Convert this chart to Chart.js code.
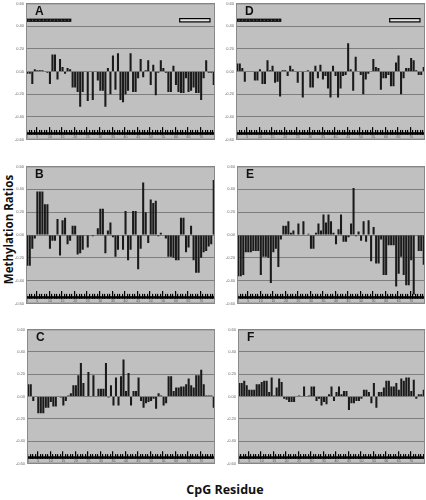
<!DOCTYPE html>
<html>
<head>
<meta charset="utf-8">
<script src="https://cdn.jsdelivr.net/npm/chart.js@4.4.1/dist/chart.umd.min.js"></script>
<style>
  html, body { margin: 0; padding: 0; background: #fff; }
  #wrap { position: relative; width: 426px; height: 500px; overflow: hidden; }
  #wrap canvas { position: absolute; }
  .title { position: absolute; font-family: 'Open Sans', sans-serif; font-weight: 700; color: #111; white-space: nowrap; text-align: center; }
  #ytitle { width: 200px; left: -92px; top: 222px; font-size: 11.5px; transform: rotate(-90deg); }
  #xtitle { width: 200px; left: 125px; top: 481px; font-size: 12.5px; }
</style>
</head>
<body>
<div id="wrap">
  <div id="ytitle" class="title">Methylation Ratios</div>
  <div id="xtitle" class="title">CpG Residue</div>
</div>
<script>
// ── Data ───────────────────────────────────────────────────
const cpgResidues = [
   1,  2,  3,  4,  5,  6,  7,  8,  9, 10, 11, 12, 13, 14, 15,
  16, 17, 18, 19, 20, 21, 22, 23, 24, 25, 26, 27, 28, 29, 30,
  31, 32, 33, 34, 35, 36, 37, 38, 39, 40, 41, 42, 43, 44, 45,
  46, 47, 48, 49, 50, 51, 52, 53, 54, 55, 56, 57, 58, 59, 60,
  61, 62, 63, 64, 65, 66, 67, 68, 69, 70, 71, 72, 73, 74, 75
];
const xTickLabels = [1, 5, 10, 15, 20, 25, 30, 35, 40, 45, 50, 55, 60, 65, 70];
const yTickValues = [0.6, 0.4, 0.2, 0, -0.2, -0.4, -0.6];

const ratiosA = [
  -0.02, -0.02, -0.11, 0.02, 0.01, 0.01, 0.01, 0.00, -0.01, -0.11,
  0.15, 0.15, -0.07, 0.11, 0.04, -0.02, 0.03, 0.02, -0.14, -0.14,
  -0.18, -0.31, -0.18, 0.00, -0.26, 0.00, -0.25, 0.00, -0.08, -0.17,
  -0.17, -0.31, 0.03, -0.20, 0.14, -0.16, 0.16, -0.25, -0.27, -0.20,
  -0.17, 0.16, -0.18, -0.18, -0.06, 0.11, -0.05, 0.01, 0.10, -0.12,
  0.06, -0.21, -0.01, 0.10, 0.03, -0.01, -0.18, -0.18, 0.05, -0.12,
  -0.18, -0.19, -0.19, -0.06, -0.18, -0.17, -0.14, -0.19, -0.19, -0.25,
  -0.06, 0.10, -0.01, -0.01, -0.12
];
const ratiosB = [
  -0.27, -0.27, -0.12, -0.03, 0.38, 0.38, 0.38, 0.27, 0.27, -0.12,
  -0.05, -0.05, 0.14, -0.18, 0.13, 0.15, -0.08, -0.05, 0.08, 0.08,
  -0.17, -0.16, -0.13, 0.00, -0.11, 0.00, -0.01, 0.00, 0.06, 0.23,
  0.23, -0.16, 0.04, 0.11, -0.02, -0.19, -0.13, 0.00, -0.13, 0.21,
  -0.22, -0.13, 0.21, 0.21, -0.30, -0.12, 0.46, 0.20, -0.07, 0.31,
  0.28, 0.30, -0.01, 0.02, 0.00, -0.03, -0.19, -0.19, -0.20, -0.22,
  -0.22, 0.15, 0.15, -0.15, -0.11, 0.08, -0.22, -0.33, -0.33, -0.20,
  -0.15, -0.14, -0.10, -0.08, 0.48
];
const ratiosC = [
  0.11, 0.11, -0.04, 0.00, -0.15, -0.15, -0.15, -0.10, -0.10, -0.05,
  -0.09, -0.09, 0.00, -0.01, -0.08, -0.04, 0.01, 0.03, 0.10, 0.10,
  0.19, 0.30, 0.12, 0.00, 0.22, 0.00, 0.19, 0.00, 0.07, 0.07,
  0.07, 0.30, -0.01, 0.10, -0.08, 0.17, -0.08, 0.18, 0.33, 0.05,
  0.21, -0.08, 0.05, 0.05, 0.17, -0.04, -0.10, -0.06, -0.05, -0.04,
  -0.02, -0.11, 0.03, 0.01, -0.08, -0.06, 0.18, 0.18, 0.05, 0.08,
  0.08, 0.09, 0.09, 0.11, 0.16, 0.10, 0.08, 0.19, 0.19, 0.24,
  0.11, 0.01, 0.01, 0.01, -0.10
];
const ratiosD = [
  0.07, 0.07, 0.03, -0.09, 0.00, 0.00, 0.00, -0.08, -0.08, 0.02,
  -0.11, -0.11, 0.10, 0.01, 0.05, -0.10, -0.09, -0.22, 0.01, 0.01,
  -0.04, 0.05, 0.02, 0.00, -0.10, 0.00, -0.23, 0.00, 0.01, -0.14,
  -0.14, 0.05, -0.06, 0.06, -0.07, -0.04, -0.15, -0.23, 0.05, -0.04,
  -0.23, -0.15, -0.04, -0.03, 0.25, 0.02, -0.17, 0.13, 0.00, -0.03,
  -0.20, -0.07, -0.02, 0.00, 0.11, 0.04, 0.03, -0.16, -0.06, -0.06,
  -0.03, -0.13, -0.13, 0.08, 0.14, -0.20, -0.06, 0.03, 0.03, 0.12,
  0.10, 0.01, -0.03, -0.03, 0.04
];
const ratiosE = [
  -0.36, -0.36, -0.35, -0.15, -0.15, -0.15, -0.14, -0.14, -0.14, -0.35,
  -0.19, -0.19, -0.20, -0.42, -0.15, -0.12, -0.28, -0.04, 0.08, 0.08,
  0.12, 0.02, 0.04, 0.00, 0.10, 0.00, 0.12, 0.00, 0.01, -0.12,
  -0.12, 0.02, 0.10, 0.04, 0.18, 0.11, 0.18, 0.12, 0.02, -0.08,
  0.05, 0.18, -0.06, -0.06, -0.02, 0.10, 0.41, -0.01, 0.03, -0.05,
  0.12, -0.06, 0.13, -0.23, 0.07, -0.25, -0.25, -0.04, -0.35, -0.35,
  -0.09, -0.09, -0.09, -0.45, -0.34, -0.19, -0.35, -0.44, -0.44, -0.22,
  -0.52, 0.00, -0.14, -0.14, -0.26
];
const ratiosF = [
  0.12, 0.12, 0.14, 0.10, 0.06, 0.06, 0.06, 0.11, 0.11, 0.13,
  0.14, 0.14, 0.04, 0.17, 0.01, 0.08, 0.16, 0.13, -0.02, -0.03,
  -0.05, -0.05, -0.05, 0.00, 0.01, 0.00, 0.09, 0.00, 0.01, 0.09,
  0.09, -0.04, -0.02, -0.08, -0.05, -0.07, 0.02, 0.09, -0.04, 0.04,
  0.09, 0.02, 0.05, 0.05, -0.12, -0.06, -0.06, -0.04, -0.04, -0.02,
  0.06, 0.06, 0.04, -0.06, 0.12, -0.10, 0.04, 0.04, 0.08, 0.14,
  0.14, 0.09, 0.09, 0.12, 0.06, 0.16, 0.14, 0.17, 0.17, 0.05,
  0.15, -0.02, 0.02, 0.02, 0.06
];

// ── Layout of the six panels (plot area in page px) ───────
const AXIS_W = 15;
const PANELS = [
  { label: 'A', data: ratiosA, left: 26,  top: 2,   w: 189, h: 139, marks: true },
  { label: 'D', data: ratiosD, left: 236, top: 2,   w: 189, h: 139, marks: true },
  { label: 'B', data: ratiosB, left: 26,  top: 165, w: 189, h: 140 },
  { label: 'E', data: ratiosE, left: 237, top: 165, w: 188, h: 140 },
  { label: 'C', data: ratiosC, left: 27,  top: 328, w: 188, h: 137 },
  { label: 'F', data: ratiosF, left: 238, top: 328, w: 187, h: 137 }
];

// ── Plugin: grey plot area, CpG map strip, panel letter ───
const panelDecor = {
  id: 'panelDecor',
  beforeDraw(chart) {
    const { ctx, chartArea: a } = chart;
    ctx.save();
    ctx.fillStyle = '#c0c0c0';
    ctx.fillRect(a.left, a.top, a.right - a.left, a.bottom - a.top);
    ctx.restore();
  },
  afterDatasetsDraw(chart, args, opts) {
    const { ctx, chartArea: a, scales: { x, y } } = chart;
    const step = x.getPixelForValue(1) - x.getPixelForValue(0);
    ctx.save();

    // residue strip along the bottom
    const yBase = y.getPixelForValue(-0.557);
    ctx.fillStyle = '#000';
    ctx.fillRect(a.left, yBase - 2.5, a.right - a.left, 2.5);
    cpgResidues.forEach((r, i) => {
      const xp = x.getPixelForValue(i) - step / 2;
      const major = xTickLabels.includes(r) && r !== 1;
      const yTop = y.getPixelForValue(major ? -0.49 : -0.515);
      ctx.fillRect(Math.round(xp), yTop, 1.2, yBase - yTop);
    });

    // tiny residue numbers
    ctx.fillStyle = '#555';
    ctx.font = '3.5px "Liberation Sans", Arial, sans-serif';
    ctx.textAlign = 'center';
    ctx.textBaseline = 'middle';
    xTickLabels.forEach(r => {
      ctx.fillText(String(r), x.getPixelForValue(cpgResidues.indexOf(r)), y.getPixelForValue(-0.578));
    });

    // promoter marks on A and D
    if (opts.marks) {
      const y1 = y.getPixelForValue(0.466), y2 = y.getPixelForValue(0.437);
      const bx1 = x.getPixelForValue(0) - step / 2, bx2 = x.getPixelForValue(17) + step / 2;
      ctx.fillStyle = '#111';
      ctx.fillRect(bx1, y1, bx2 - bx1, y2 - y1);
      ctx.fillStyle = '#777';
      for (let px = bx1 + 2.5; px < bx2 - 1.5; px += 3.6) ctx.fillRect(px, (y1 + y2) / 2 - 0.5, 1, 1);
      const wx1 = x.getPixelForValue(61) - step / 2, wx2 = x.getPixelForValue(72) + step / 2;
      ctx.fillStyle = '#e4e4e4';
      ctx.fillRect(wx1, y1, wx2 - wx1, y2 - y1);
      ctx.strokeStyle = '#000';
      ctx.lineWidth = 1.2;
      ctx.strokeRect(wx1, y1, wx2 - wx1, y2 - y1);
    }

    // panel letter
    ctx.fillStyle = '#111';
    ctx.font = 'bold 12px "Liberation Sans", Arial, sans-serif';
    ctx.textAlign = 'left';
    ctx.textBaseline = 'alphabetic';
    ctx.fillText(opts.label, a.left + 9, a.top + 12);
    ctx.restore();
  },
  afterDraw(chart) {
    const { ctx, chartArea: a } = chart;
    ctx.save();
    ctx.strokeStyle = '#8a8a8a';
    ctx.lineWidth = 1;
    ctx.strokeRect(a.left + 0.5, a.top + 0.5, a.right - a.left - 1, a.bottom - a.top - 1);
    ctx.restore();
  }
};

const wrap = document.getElementById('wrap');

PANELS.forEach(p => {
  const canvas = document.createElement('canvas');
  canvas.width = p.w + AXIS_W + 1;
  canvas.height = p.h + 6;
  canvas.style.left = (p.left - AXIS_W) + 'px';
  canvas.style.top = (p.top - 3) + 'px';
  wrap.appendChild(canvas);

  new Chart(canvas, {
    type: 'bar',
    data: {
      labels: cpgResidues,
      datasets: [{
        data: p.data,
        backgroundColor: '#1a1a1a',
        borderWidth: 0,
        barPercentage: 0.82,
        categoryPercentage: 1.0
      }]
    },
    plugins: [panelDecor],
    options: {
      responsive: false,
      animation: false,
      events: [],
      layout: { padding: { top: 3, right: 1, bottom: 3, left: 0 } },
      plugins: {
        legend: { display: false },
        tooltip: { enabled: false },
        panelDecor: { label: p.label, marks: !!p.marks }
      },
      scales: {
        x: { display: false },
        y: {
          min: -0.6,
          max: 0.6,
          afterBuildTicks: s => { s.ticks = yTickValues.map(v => ({ value: v })); },
          afterFit: s => { s.width = AXIS_W; },
          ticks: {
            padding: 2,
            color: '#666',
            font: { size: 4, family: "'Liberation Sans', Arial, sans-serif" },
            callback: v => v.toFixed(2)
          },
          grid: { color: '#7e7e7e', lineWidth: 1, drawTicks: false },
          border: { color: '#8a8a8a' }
        }
      }
    }
  });
});
</script>
</body>
</html>
